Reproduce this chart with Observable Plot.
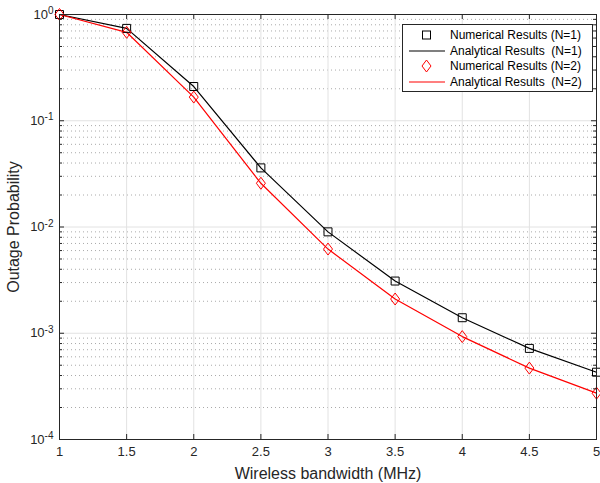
<!DOCTYPE html>
<html><head><meta charset="utf-8">
<script src="https://cdn.jsdelivr.net/npm/d3@7"></script>
<script src="https://cdn.jsdelivr.net/npm/@observablehq/plot@0.6"></script>
<style>
body{margin:0;background:#fff;}
#wrap{position:relative;width:600px;height:483px;font-family:"Liberation Sans",Arial,sans-serif;}
#legend{position:absolute;left:402px;top:24px;width:189px;height:66px;border:1px solid #262626;background:#fff;font-size:12px;color:#000;}
.row{position:absolute;left:0;height:16px;display:flex;align-items:center;white-space:pre;}
.row svg{margin-left:6px;margin-right:5px;}
</style></head><body><div id="wrap"></div>
<script>
const bandwidth = [1, 1.5, 2, 2.5, 3, 3.5, 4, 4.5, 5];
const outageN1 = [1.0, 0.74, 0.21, 0.036, 0.0090, 0.0031, 0.0014, 0.00072, 0.00043];
const outageN2 = [1.0, 0.68, 0.167, 0.0258, 0.0062, 0.0021, 0.00093, 0.00047, 0.000273];
const xTicks = [1, 1.5, 2, 2.5, 3, 3.5, 4, 4.5, 5];
const xTickLabels = ["1", "1.5", "2", "2.5", "3", "3.5", "4", "4.5", "5"];
const yDecades = [1e-4, 1e-3, 1e-2, 1e-1, 1];
const yTickLabels = ["10^-4", "10^-3", "10^-2", "10^-1", "10^0"];
const legendLabels = ["Numerical Results (N=1)", "Analytical Results  (N=1)", "Numerical Results (N=2)", "Analytical Results  (N=2)"];

const rows1 = bandwidth.map((x, i) => ({x, y: outageN1[i]}));
const rows2 = bandwidth.map((x, i) => ({x, y: outageN2[i]}));
const minor = [];
for (const d of yDecades.slice(0, -1)) for (let k = 2; k <= 9; k++) minor.push(d * k);

const W = 600, H = 483, mL = 59, mR = 4, mT = 14, mB = 44;
const iw = W - mL - mR, ih = H - mT - mB;
const axisColor = "#262626";

const tallDiamond = {
  draw(ctx, size) {
    const r = Math.sqrt(size / Math.PI);
    const h = r * 1.33;
    ctx.moveTo(0, -h); ctx.lineTo(r, 0); ctx.lineTo(0, h); ctx.lineTo(-r, 0); ctx.closePath();
  }
};

const chart = Plot.plot({
  width: W, height: H, marginLeft: mL, marginRight: mR, marginTop: mT, marginBottom: mB,
  style: {fontFamily: '"Liberation Sans", Arial, sans-serif', fontSize: "13px", color: axisColor, background: "#fff", overflow: "visible"},
  x: {domain: [1, 5]},
  y: {type: "log", domain: [1e-4, 1]},
  marks: [
    Plot.ruleY(minor, {stroke: "#aaaaaa", strokeDasharray: "1,3"}),
    Plot.ruleY(yDecades, {stroke: "#e2e2e2"}),
    Plot.ruleX(xTicks, {stroke: "#e2e2e2"}),
    Plot.line(rows1, {x: "x", y: "y", stroke: "#000", strokeWidth: 1.2}),
    Plot.line(rows2, {x: "x", y: "y", stroke: "#ff0000", strokeWidth: 1.2}),
    Plot.dot(rows1, {x: "x", y: "y", symbol: "square", r: 4.5, stroke: "#000", fill: "none", strokeWidth: 1}),
    Plot.dot(rows2, {x: "x", y: "y", symbol: tallDiamond, r: 4.5, stroke: "#ff0000", fill: "none", strokeWidth: 1}),
    Plot.frame({stroke: axisColor}),
    Plot.ruleX(xTicks, {stroke: axisColor, insetTop: ih - 5}),
    Plot.ruleX(xTicks, {stroke: axisColor, insetBottom: ih - 5}),
    Plot.ruleY(yDecades, {stroke: axisColor, insetRight: iw - 5}),
    Plot.ruleY(yDecades, {stroke: axisColor, insetLeft: iw - 5}),
    Plot.ruleY(minor, {stroke: axisColor, insetRight: iw - 3}),
    Plot.ruleY(minor, {stroke: axisColor, insetLeft: iw - 3}),
    Plot.axisX({ticks: xTicks, tickFormat: d => xTickLabels[xTicks.indexOf(d)], tickSize: 0, tickPadding: 7,
      label: "Wireless bandwidth (MHz)", labelAnchor: "center", labelOffset: 39, labelArrow: "none", fontSize: 13}),
    Plot.axisY({ticks: yDecades, tickFormat: d => yTickLabels[yDecades.indexOf(d)], tickSize: 0, tickPadding: 6,
      label: "Outage Probability", labelAnchor: "center", labelOffset: 52, labelArrow: "none", fontSize: 13})
  ]
});

// superscript exponents
d3.select(chart).selectAll('g[aria-label="y-axis tick label"] text').each(function() {
  const t = d3.select(this);
  const parts = t.text().split("^");
  t.text("");
  t.append("tspan").text(parts[0]);
  t.append("tspan").attr("dy", "-0.45em").attr("font-size", "10px").text(parts[1]);
});
d3.select(chart).selectAll('g[aria-label="x-axis label"] text, g[aria-label="y-axis label"] text')
  .attr("font-size", "16px")
  .each(function() { this.textContent = this.textContent.replace(/[↑↓←→]/g, "").trim(); });

const wrap = document.getElementById("wrap");
wrap.appendChild(chart);

const legend = document.createElement("div");
legend.id = "legend";
const sym = [
  '<svg width="36" height="14"><rect x="13.5" y="3" width="8" height="8" fill="none" stroke="#000"/></svg>',
  '<svg width="36" height="14"><line x1="0" y1="7" x2="36" y2="7" stroke="#000" stroke-width="1.2"/></svg>',
  '<svg width="36" height="14"><path d="M17.5,1 L22,7 L17.5,13 L13,7 Z" fill="none" stroke="#f00"/></svg>',
  '<svg width="36" height="14"><line x1="0" y1="7" x2="36" y2="7" stroke="#f00" stroke-width="1.2"/></svg>'
];
const tops = [2, 17.5, 33, 48.5];
legendLabels.forEach((lab, i) => {
  const r = document.createElement("div");
  r.className = "row";
  r.style.top = tops[i] + "px";
  r.innerHTML = sym[i] + "<span></span>";
  r.querySelector("span").textContent = lab;
  legend.appendChild(r);
});
wrap.appendChild(legend);
</script></body></html>
